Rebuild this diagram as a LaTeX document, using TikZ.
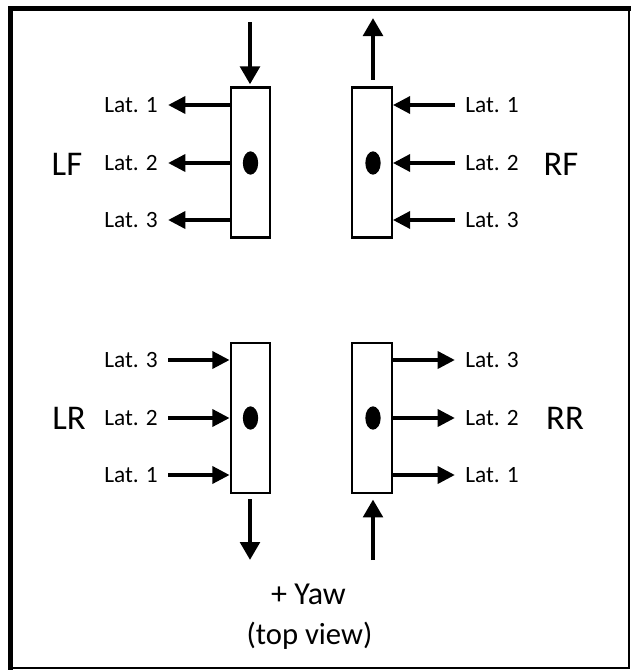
\documentclass[tikz,border=0pt]{standalone}
\usepackage{fontspec}
\setmainfont{Carlito}
\usetikzlibrary{arrows.meta,shapes.geometric}
\begin{document}
\begin{tikzpicture}[x=0.75pt,y=-0.75pt,
  wheel/.style={draw=black,line width=1.7pt,fill=white,minimum width=29.5pt,minimum height=112.5pt,inner sep=0pt},
  hub/.style={ellipse,fill=black,minimum width=11.5pt,minimum height=17.5pt,inner sep=0pt},
  latlbl/.style={font=\fontsize{17.5}{20}\selectfont,inner ysep=0pt,inner xsep=7.5pt},
  corner/.style={font=\fontsize{26}{30}\selectfont,inner sep=0pt},
  yawlbl/.style={font=\fontsize{24}{28}\selectfont,inner sep=0pt},
  viewlbl/.style={font=\fontsize{23}{27}\selectfont,inner sep=0pt},
  latarr/.style={line width=3.3pt,-{Triangle[length=13pt,width=12.5pt]}},
  bigarr/.style={line width=3.4pt,-{Triangle[length=13.5pt,width=14.5pt]}}]
\useasboundingbox (0,0) rectangle (632,671);
% frame
\draw[line width=3.4pt,line cap=rect] (629,8.5) -- (10.5,8.5) -- (10.5,668);
\draw[line width=1.8pt,line cap=rect] (10.5,668) -- (629,668) -- (629,8.5);
% wheels
\node[wheel] (lf) at (250.5,162.5) {};
\node[wheel] (rf) at (372,162.5) {};
\node[wheel] (lr) at (250.5,418) {};
\node[wheel] (rr) at (372,418) {};
\node[hub] (lfh) at (250.5,163) {};
\node[hub] (rfh) at (373,163) {};
\node[hub] (lrh) at (250.5,418) {};
\node[hub] (rrh) at (373,418) {};
% corner labels
\node[corner] (lft) at (67,164) {LF};
\node[corner] (rft) at (561,164) {RF};
\node[corner] (lrt) at (69,418) {LR};
\node[corner] (rrt) at (565,418) {RR};
% LF lateral
\node[latlbl,anchor=east] (lf1) at (168,105) {Lat. 1};
\node[latlbl,anchor=east] (lf2) at (168,163) {Lat. 2};
\node[latlbl,anchor=east] (lf3) at (168,220) {Lat. 3};
\draw[latarr] (lf.west |- lf1.east) -- (lf1.east);
\draw[latarr] (lf.west |- lf2.east) -- (lf2.east);
\draw[latarr] (lf.west |- lf3.east) -- (lf3.east);
% RF lateral
\node[latlbl,anchor=west] (rf1) at (455,105) {Lat. 1};
\node[latlbl,anchor=west] (rf2) at (455,163) {Lat. 2};
\node[latlbl,anchor=west] (rf3) at (455,220) {Lat. 3};
\draw[latarr] (rf1.west) -- (rf.east |- rf1.west);
\draw[latarr] (rf2.west) -- (rf.east |- rf2.west);
\draw[latarr] (rf3.west) -- (rf.east |- rf3.west);
% LR lateral
\node[latlbl,anchor=east] (lr3) at (168,360) {Lat. 3};
\node[latlbl,anchor=east] (lr2) at (168,418) {Lat. 2};
\node[latlbl,anchor=east] (lr1) at (168,475) {Lat. 1};
\draw[latarr] (lr3.east) -- (lr.west |- lr3.east);
\draw[latarr] (lr2.east) -- (lr.west |- lr2.east);
\draw[latarr] (lr1.east) -- (lr.west |- lr1.east);
% RR lateral
\node[latlbl,anchor=west] (rr3) at (455,360) {Lat. 3};
\node[latlbl,anchor=west] (rr2) at (455,418) {Lat. 2};
\node[latlbl,anchor=west] (rr1) at (455,475) {Lat. 1};
\draw[latarr] (rr.east |- rr3.west) -- (rr3.west);
\draw[latarr] (rr.east |- rr2.west) -- (rr2.west);
\draw[latarr] (rr.east |- rr1.west) -- (rr1.west);
% longitudinal
\coordinate (lfin) at (250,22);
\coordinate (rfout) at (373,18);
\coordinate (lrout) at (250,560);
\coordinate (rrin) at (373,560);
\draw[bigarr,shorten >=1.5pt] (lfin) -- (lfin |- lf.north);
\draw[bigarr,shorten <=5pt] (rfout |- rf.north) -- (rfout);
\draw[bigarr,shorten <=4pt] (lrout |- lr.south) -- (lrout);
\draw[bigarr,shorten >=4pt] (rrin) -- (rrin |- rr.south);
% caption
\node[yawlbl] (yaw) at (308.5,594) {+ Yaw};
\node[viewlbl] (view) at (309.5,636) {(top view)};
\end{tikzpicture}
\end{document}
